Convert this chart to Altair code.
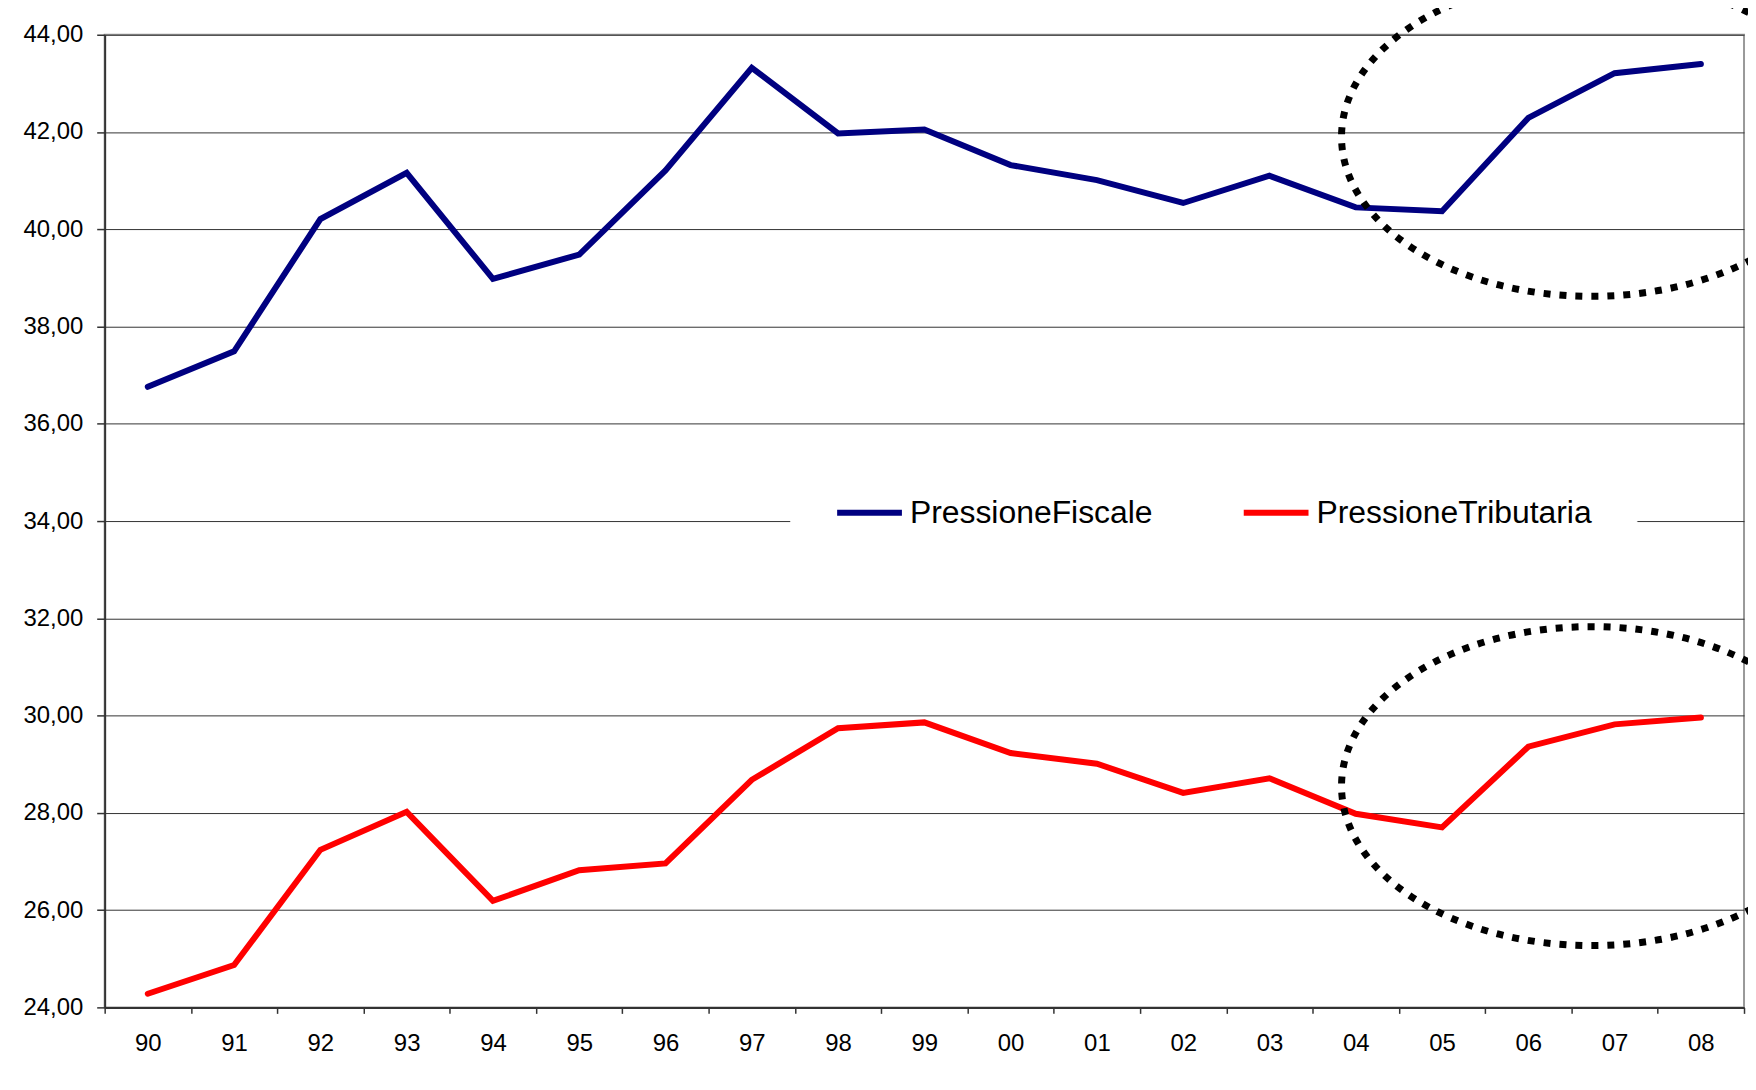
import altair as alt
import pandas as pd

years = ["90", "91", "92", "93", "94", "95", "96", "97", "98", "99",
         "00", "01", "02", "03", "04", "05", "06", "07", "08"]
fiscale = [36.76, 37.49, 40.21, 41.16, 38.98, 39.48, 41.21, 43.32, 41.97, 42.05,
           41.32, 41.01, 40.54, 41.10, 40.45, 40.37, 42.29, 43.21, 43.40]
tributaria = [24.28, 24.87, 27.24, 28.02, 26.19, 26.82, 26.96, 28.68, 29.74, 29.86,
              29.23, 29.01, 28.41, 28.71, 27.98, 27.70, 29.36, 29.82, 29.96]
series_names = ["PressioneFiscale", "PressioneTributaria"]
series_colors = ["#000080", "#FF0000"]
y_ticks = [24, 26, 28, 30, 32, 34, 36, 38, 40, 42, 44]

# annotation ellipses (highlight of recent years)
ellipse_year = ["07", "07"]
ellipse_value = [41.9, 28.55]

rows = []
for name, vals in zip(series_names, [fiscale, tributaria]):
    for y, v in zip(years, vals):
        rows.append({"anno": y, "valore": v, "serie": name})
df = pd.DataFrame(rows)
df_ell = pd.DataFrame({"anno": ellipse_year, "valore": ellipse_value})

FONT = "Liberation Sans"

x_enc = alt.X(
    "anno:O",
    scale=alt.Scale(domain=years, type="band", paddingInner=0, paddingOuter=0),
    axis=alt.Axis(
        title=None, labelAngle=0, grid=False, tickBand="extent",
        labelFont=FONT, labelFontSize=24, labelColor="#000000",
        labelPadding=18, tickSize=6, tickColor="#333333", tickWidth=1.5,
        domainColor="#333333", domainWidth=2,
    ),
)
y_enc = alt.Y(
    "valore:Q",
    scale=alt.Scale(domain=[24, 44], nice=False, zero=False),
    axis=alt.Axis(
        title=None, values=y_ticks, grid=True, gridColor="#333333", gridWidth=1,
        labelExpr="replace(format(datum.value, '.2f'), '.', ',')",
        labelFont=FONT, labelFontSize=24, labelColor="#000000",
        labelPadding=14, tickSize=8, tickColor="#333333", tickWidth=1.5,
        domainColor="#333333", domainWidth=2,
    ),
)

lines = alt.Chart(df).mark_line(strokeWidth=6, strokeCap="round").encode(
    x=x_enc,
    y=y_enc,
    color=alt.Color(
        "serie:N",
        scale=alt.Scale(domain=series_names, range=series_colors),
        legend=alt.Legend(
            title=None, orient="none", direction="horizontal",
            legendX=688, legendY=400,
            symbolType="stroke", symbolStrokeWidth=6, symbolSize=4225,
            labelFont=FONT, labelFontSize=32, labelColor="#000000",
            labelLimit=500, labelOffset=5, columnPadding=79,
            padding=44, fillColor="#FFFFFF", strokeColor="#FFFFFF",
        ),
    ),
)

k = 0.5523
r = 160 / 251
ell_path = (
    f"M 1 0 C 1 {k*r:.4f} {k:.4f} {r:.4f} 0 {r:.4f} "
    f"C {-k:.4f} {r:.4f} -1 {k*r:.4f} -1 0 "
    f"C -1 {-k*r:.4f} {-k:.4f} {-r:.4f} 0 {-r:.4f} "
    f"C {k:.4f} {-r:.4f} 1 {-k*r:.4f} 1 0 Z"
)

ellipses = alt.Chart(df_ell).mark_point(
    shape=ell_path, size=(2 * 251) ** 2, filled=False, opacity=1,
    stroke="#000000", strokeWidth=7, strokeDash=[7, 9], xOffset=-23,
).encode(
    x=alt.X("anno:O"),
    y=alt.Y("valore:Q"),
)

chart = alt.layer(lines, ellipses).properties(
    width=1645,
    height=976,
    autosize=alt.AutoSizeParams(type="none"),
    padding={"left": 97, "top": 25, "right": 4, "bottom": 60},
    background="#FFFFFF",
).configure_view(
    stroke="#999999", strokeWidth=2, fill="#FFFFFF",
)

chart.save("out.html", embed_options={"renderer": "svg", "actions": False})
